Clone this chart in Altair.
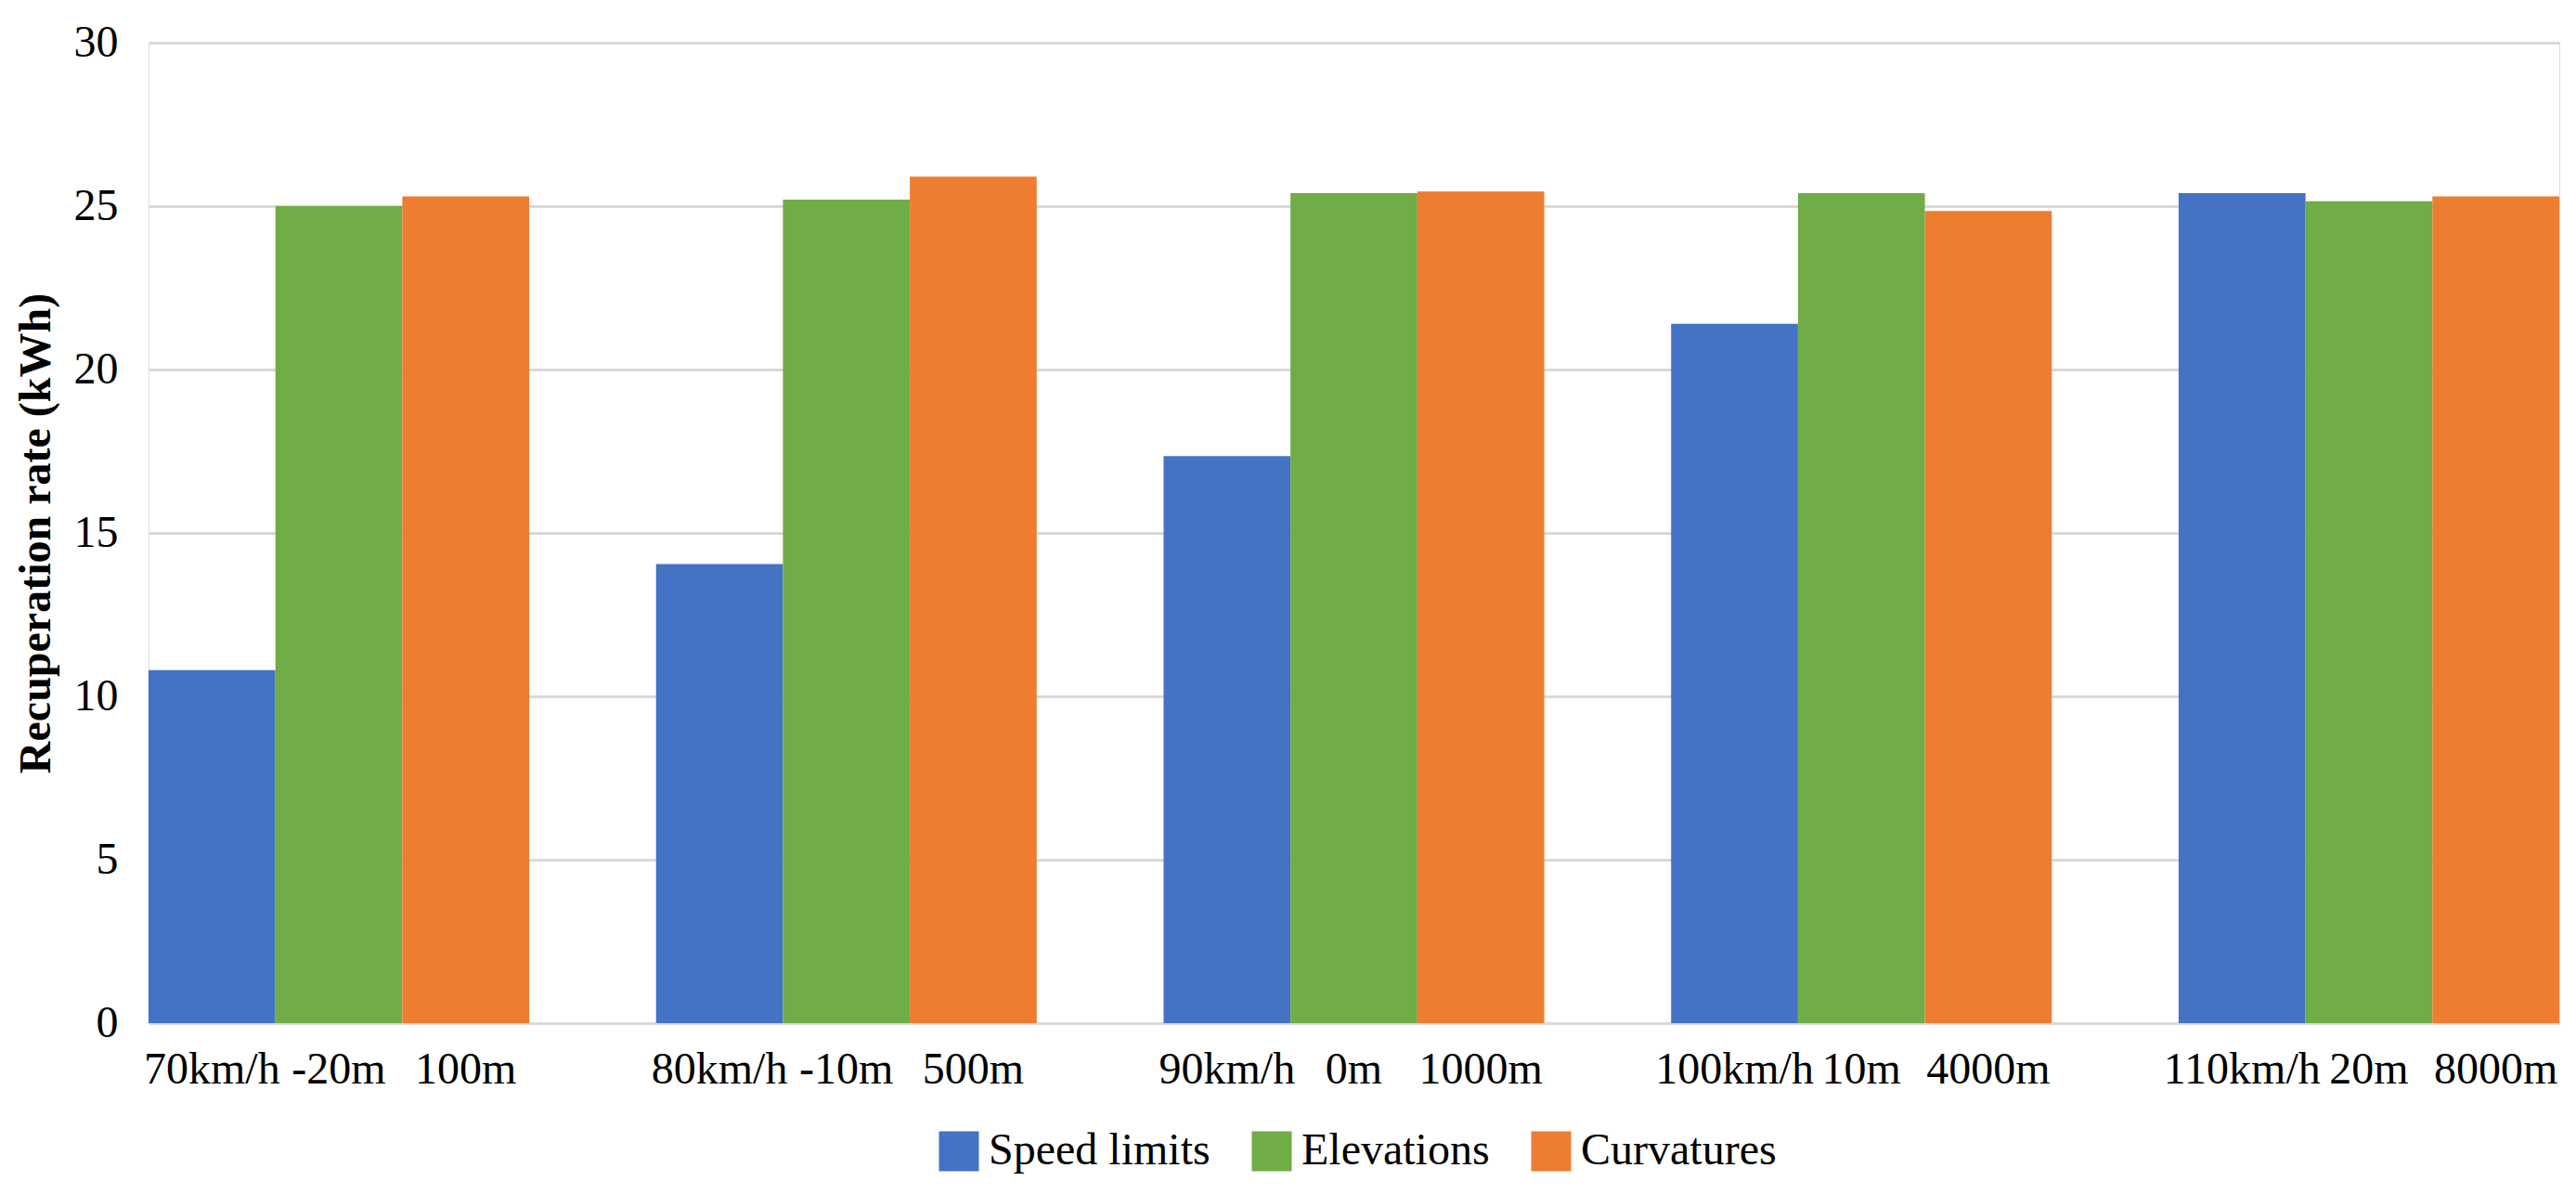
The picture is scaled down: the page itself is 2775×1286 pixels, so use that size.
import altair as alt
import pandas as pd

series = ["Speed limits", "Elevations", "Curvatures"]
colors = ["#4472C4", "#70AD47", "#ED7D31"]
groups = ["Level 1", "Level 2", "Level 3", "Level 4", "Level 5"]

speed_labels = ["70km/h", "80km/h", "90km/h", "100km/h", "110km/h"]
elev_labels = ["-20m", "-10m", "0m", "10m", "20m"]
curv_labels = ["100m", "500m", "1000m", "4000m", "8000m"]

speed_vals = [10.8, 14.05, 17.35, 21.4, 25.4]
elev_vals = [25.0, 25.2, 25.4, 25.4, 25.15]
curv_vals = [25.3, 25.9, 25.45, 24.85, 25.3]

rows = []
for s, labs, vals in zip(series, [speed_labels, elev_labels, curv_labels],
                         [speed_vals, elev_vals, curv_vals]):
    for g, l, v in zip(groups, labs, vals):
        rows.append({"group": g, "series": s, "label": l, "value": v})
df = pd.DataFrame(rows)

FONT = "'Liberation Serif', 'Times New Roman', Times, 'DejaVu Serif', serif"

x_enc = alt.X("group:N", sort=groups, axis=None,
              scale=alt.Scale(paddingInner=0.25, paddingOuter=0))
xo_enc = alt.XOffset("series:N", sort=series,
                     scale=alt.Scale(domain=series, paddingInner=0, paddingOuter=0))

bars = alt.Chart(df).mark_bar().encode(
    x=x_enc,
    xOffset=xo_enc,
    y=alt.Y("value:Q",
            scale=alt.Scale(domain=[0, 30], nice=False),
            axis=alt.Axis(values=[0, 5, 10, 15, 20, 25, 30],
                          title="Recuperation rate (kWh)",
                          titleFont=FONT, titleFontSize=48, titleFontWeight="bold",
                          titleColor="black", titlePadding=16,
                          labelFont=FONT, labelFontSize=48, labelColor="black",
                          labelPadding=33, ticks=False, domain=False,
                          grid=True, gridColor="#d9d9d9", gridWidth=3)),
    color=alt.Color("series:N", sort=series,
                    scale=alt.Scale(domain=series, range=colors),
                    legend=alt.Legend(title=None, orient="none", direction="horizontal",
                                      legendX=849, legendY=1170,
                                      symbolType="square", symbolSize=1850,
                                      symbolStrokeWidth=0, symbolOpacity=1,
                                      labelFont=FONT, labelFontSize=48, labelColor="black",
                                      labelLimit=0, labelOffset=8, columnPadding=42,
                                      padding=0)),
)

labels = alt.Chart(df).mark_text(
    font=FONT, fontSize=48, color="black", align="center",
    baseline="alphabetic", dy=65
).encode(
    x=x_enc,
    xOffset=xo_enc,
    y=alt.datum(0),
    text="label:N",
)

chart = alt.layer(bars, labels).properties(
    width=2597, height=1056,
    autosize=alt.AutoSizeParams(type="none"),
    padding={"left": 152, "top": 38, "right": 10, "bottom": 172},
).configure_view(strokeWidth=0, stroke="transparent").configure(background="white")

chart.save("out.html", embed_options={"renderer": "svg", "actions": False})
